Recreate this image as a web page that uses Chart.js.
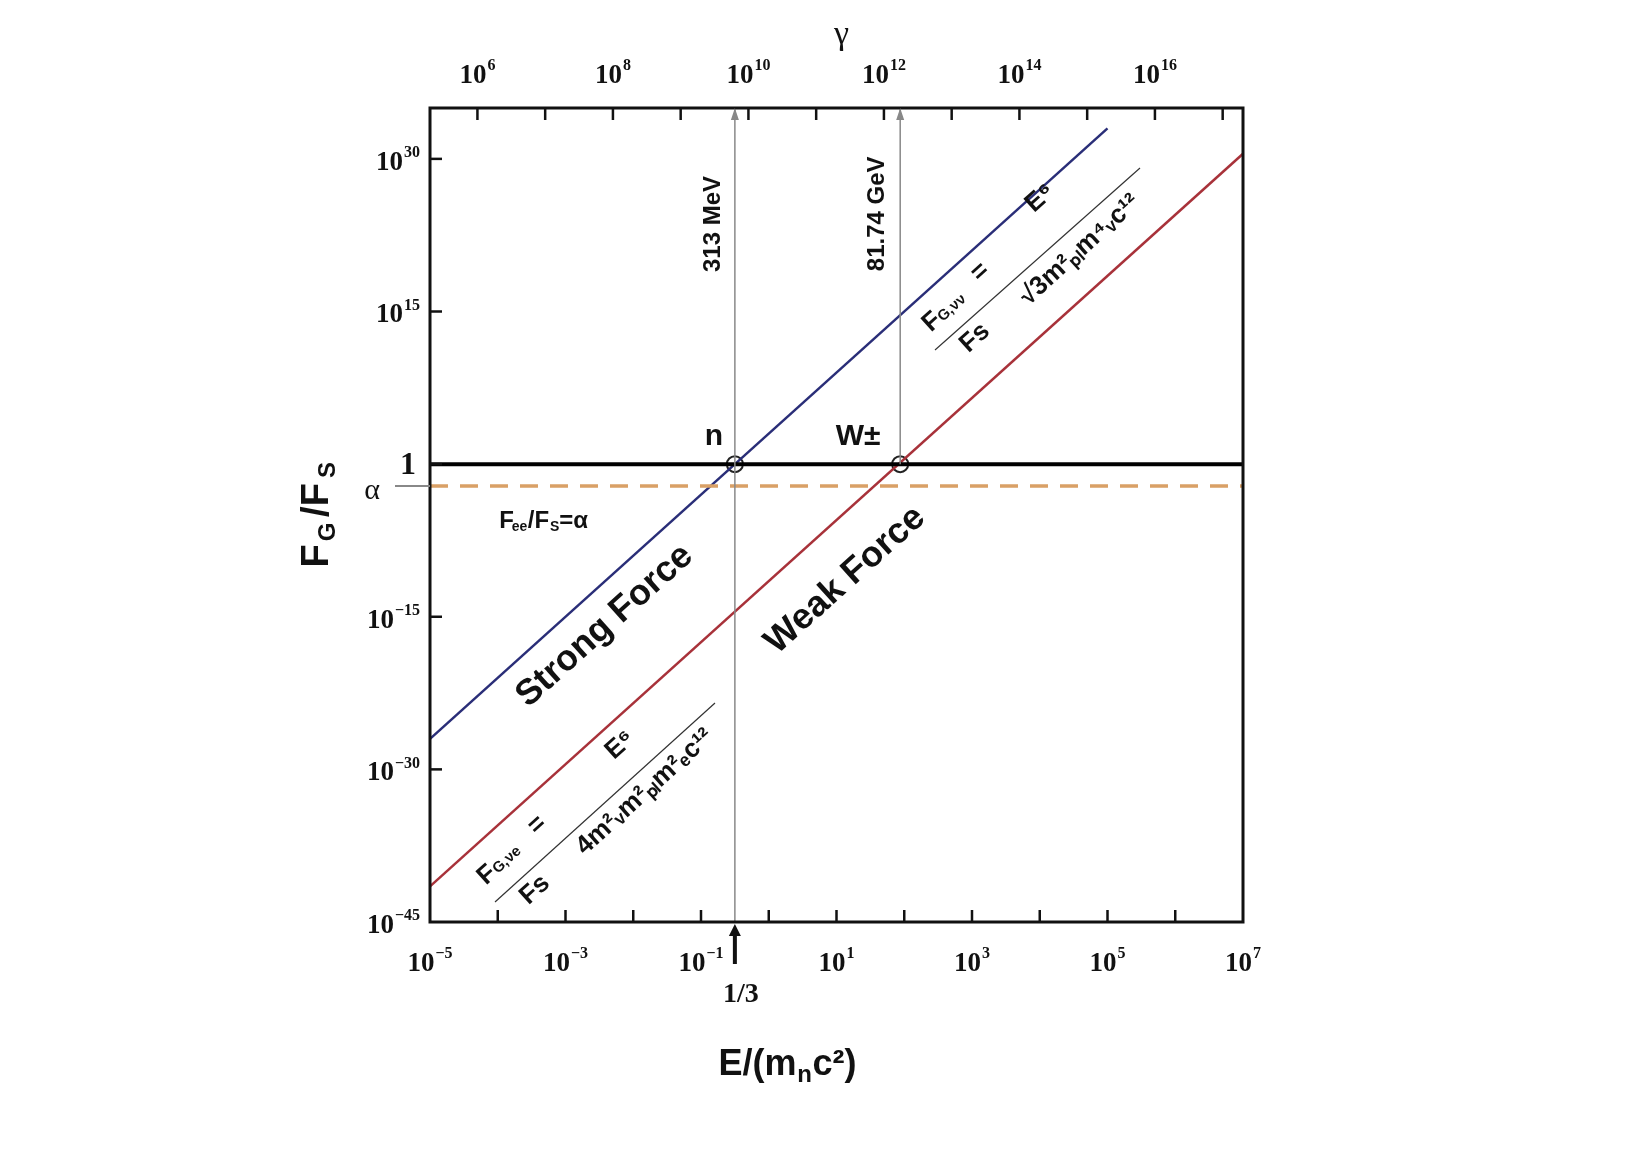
<!DOCTYPE html>
<html><head><meta charset="utf-8">
<script src="https://cdn.jsdelivr.net/npm/chart.js@4"></script>
<style>html,body{margin:0;background:#fff}#w{width:1640px;height:1170px}</style>
</head><body><div id="w"><canvas id="c"></canvas></div>
<script>
// log10 values
const strongLine = [{x:-5,y:-27.0},{x:5,y:33.0}];
const weakLine = [{x:-5,y:-41.5},{x:7,y:30.5}];
const unityLine = [{x:-5,y:0},{x:7,y:0}];
const alphaLine = [{x:-5,y:-2.14},{x:7,y:-2.14}];
const crossings = [{x:-0.5,y:0},{x:1.94,y:0}];
const vLine1 = [{x:-0.5,y:-45},{x:-0.5,y:35}];
const vLine2 = [{x:1.94,y:0},{x:1.94,y:35}];
const xTicks = [-5,-3,-1,1,3,5,7];
const yTicks = [-45,-30,-15,0,15,30];
const gammaTicks = [6,8,10,12,14,16];
const gammaOffset = 10.3;

function txt(ctx,s,x,y,font,rot,color,align){
  ctx.save();ctx.translate(x,y);ctx.rotate((rot||0)*Math.PI/180);
  ctx.font=font;ctx.fillStyle=color||'#111';ctx.textAlign=align||'center';ctx.textBaseline='middle';
  ctx.fillText(s,0,0);ctx.restore();
}
function powLabel(ctx,e,x,y,align){
  const bf='bold 27px "Liberation Serif", serif', ef='bold 16px "Liberation Serif", serif';
  const es=String(e).replace('-','−');
  ctx.save();ctx.textBaseline='middle';ctx.fillStyle='#111';
  ctx.font=bf;const bw=ctx.measureText('10').width;ctx.font=ef;const ew=ctx.measureText(es).width;
  const w=bw+ew+1;let x0=align==='right'?x-w:x-w/2;
  ctx.font=bf;ctx.textAlign='left';ctx.fillText('10',x0,y);
  ctx.font=ef;ctx.fillText(es,x0+bw+1,y-10);ctx.restore();
}
const deco = {
  id:'deco',
  afterDraw(ch){
    const ctx=ch.ctx, X=ch.scales.x, Y=ch.scales.y, a=ch.chartArea;
    const px=v=>X.getPixelForValue(v), py=v=>Y.getPixelForValue(v);
    ctx.save();
    ctx.strokeStyle='#111';ctx.lineWidth=3;ctx.strokeRect(a.left,a.top,a.right-a.left,a.bottom-a.top);
    ctx.lineWidth=2.5;
    for(let d=-4;d<=6;d++){ctx.beginPath();ctx.moveTo(px(d),a.bottom);ctx.lineTo(px(d),a.bottom-12);ctx.stroke();}
    for(const t of yTicks.slice(1)){ctx.beginPath();ctx.moveTo(a.left,py(t));ctx.lineTo(a.left+12,py(t));ctx.stroke();}
    for(let g=6;g<=17;g++){const xx=px(g-gammaOffset);ctx.beginPath();ctx.moveTo(xx,a.top);ctx.lineTo(xx,a.top+12);ctx.stroke();}
    // tick labels
    for(const t of xTicks) powLabel(ctx,t,px(t),a.bottom+42,'center');
    for(const t of gammaTicks) powLabel(ctx,t,px(t-gammaOffset),a.top-32,'center');
    for(const t of yTicks) if(t!==0) powLabel(ctx,t,a.left-10,py(t)+4,'right');
    ctx.fillStyle='#888';
    for(const v of [-0.5,1.94]){const xx=px(v);ctx.beginPath();ctx.moveTo(xx,a.top);ctx.lineTo(xx-4,a.top+12);ctx.lineTo(xx+4,a.top+12);ctx.closePath();ctx.fill();}
    ctx.strokeStyle='#888';ctx.lineWidth=2;ctx.beginPath();ctx.moveTo(a.left-35,py(-2.14));ctx.lineTo(a.left,py(-2.14));ctx.stroke();
    ctx.strokeStyle='#111';ctx.lineWidth=4;const ax=px(-0.5);
    ctx.beginPath();ctx.moveTo(ax,a.bottom+42);ctx.lineTo(ax,a.bottom+8);ctx.stroke();
    ctx.fillStyle='#111';ctx.beginPath();ctx.moveTo(ax,a.bottom+2);ctx.lineTo(ax-6,a.bottom+14);ctx.lineTo(ax+6,a.bottom+14);ctx.closePath();ctx.fill();
    const B='bold 30px "Liberation Sans", Arial, sans-serif';
    const S='bold 28px "Liberation Serif", serif';
    txt(ctx,'1/3',ax+6,a.bottom+73,S);
    txt(ctx,'1',a.left-22,py(0)+2,'bold 32px "Liberation Serif", serif');
    txt(ctx,'α',a.left-58,py(-2.14)+5,'30px "Liberation Serif", serif');
    txt(ctx,'E/(m',(a.left+a.right)/2-40,1065,'bold 36px "Liberation Sans", Arial, sans-serif',0,'#111','right');
    txt(ctx,'n',(a.left+a.right)/2-32,1075,'bold 24px "Liberation Sans", Arial, sans-serif');
    txt(ctx,'c²)',(a.left+a.right)/2-24,1065,'bold 36px "Liberation Sans", Arial, sans-serif',0,'#111','left');
    txt(ctx,'γ',(a.left+a.right)/2+5,35,'34px "Liberation Serif", serif');
    txt(ctx,'F',318,556,'bold 38px "Liberation Sans", Arial, sans-serif',-90);
    txt(ctx,'G',328,532,'bold 24px "Liberation Sans", Arial, sans-serif',-90);
    txt(ctx,'/F',318,500,'bold 38px "Liberation Sans", Arial, sans-serif',-90);
    txt(ctx,'S',328,470,'bold 24px "Liberation Sans", Arial, sans-serif',-90);
    txt(ctx,'n',px(-0.81),py(2.7),B);
    txt(ctx,'W±',px(1.32),py(2.7),B);
    txt(ctx,'313 MeV',px(-0.81),py(23.6),'bold 24px "Liberation Sans", Arial, sans-serif',-90);
    txt(ctx,'81.74 GeV',px(1.61),py(24.6),'bold 24px "Liberation Sans", Arial, sans-serif',-90);
    txt(ctx,'F',px(-3.87),py(-5.6),'bold 24px "Liberation Sans", Arial, sans-serif');
    txt(ctx,'ee',px(-3.68),py(-6.2),'bold 14px "Liberation Sans", Arial, sans-serif');
    txt(ctx,'/F',px(-3.40),py(-5.6),'bold 24px "Liberation Sans", Arial, sans-serif');
    txt(ctx,'S',px(-3.16),py(-6.2),'bold 14px "Liberation Sans", Arial, sans-serif');
    txt(ctx,'=α',px(-2.88),py(-5.6),'bold 24px "Liberation Sans", Arial, sans-serif');
    txt(ctx,'Strong Force',px(-2.42),py(-15.9),'bold 36px "Liberation Sans", Arial, sans-serif',-42);
    txt(ctx,'Weak Force',px(1.13),py(-11.4),'bold 36px "Liberation Sans", Arial, sans-serif',-42);
    const F='bold 26px "Liberation Sans", Arial, sans-serif';
    const Fs='bold 15px "Liberation Sans", Arial, sans-serif';
    ctx.strokeStyle='#333';ctx.lineWidth=1.2;
    ctx.beginPath();ctx.moveTo(935,350);ctx.lineTo(1140,168);ctx.stroke();
    ctx.beginPath();ctx.moveTo(495,902);ctx.lineTo(715,703);ctx.stroke();
    txt(ctx,'E⁶',1040,198,F,-42);
    txt(ctx,'F',932,322,F,-42);txt(ctx,'G,νν',952,308,Fs,-42);txt(ctx,'=',980,272,F,-42);
    txt(ctx,'Fs',975,338,F,-42);
    txt(ctx,'√3m²ₚₗm⁴ᵥc¹²',1080,250,F,-42);
    txt(ctx,'E⁶',620,745,F,-42);
    txt(ctx,'F',487,875,F,-42);txt(ctx,'G,νe',507,860,Fs,-42);txt(ctx,'=',537,825,F,-42);
    txt(ctx,'Fs',535,890,F,-42);
    txt(ctx,'4m²ᵥm²ₚₗm²ₑc¹²',645,792,F,-42);
    ctx.restore();
  }
};
new Chart(document.getElementById('c'),{
  type:'scatter',
  data:{datasets:[
    {data:vLine1,showLine:true,borderColor:'#888',borderWidth:1.5,pointRadius:0},
    {data:vLine2,showLine:true,borderColor:'#888',borderWidth:1.5,pointRadius:0},
    {data:alphaLine,showLine:true,borderColor:'#d9a066',borderWidth:3.5,borderDash:[18,12],pointRadius:0},
    {data:unityLine,showLine:true,borderColor:'#000',borderWidth:4,pointRadius:0},
    {data:strongLine,showLine:true,borderColor:'#2a2e78',borderWidth:2.5,pointRadius:0},
    {data:weakLine,showLine:true,borderColor:'#a8323a',borderWidth:2.5,pointRadius:0},
    {data:crossings,showLine:false,pointRadius:8,pointBorderWidth:2,pointBorderColor:'#222',pointBackgroundColor:'rgba(255,255,255,0)'}
  ]},
  options:{responsive:true,maintainAspectRatio:false,animation:false,
    layout:{padding:{left:330,right:397,top:48,bottom:148}},
    plugins:{legend:{display:false},tooltip:{enabled:false}},
    scales:{
      x:{type:'linear',min:-5,max:7,grid:{display:false},border:{display:false},
        afterBuildTicks:s=>{s.ticks=xTicks.map(v=>({value:v}));},afterFit:s=>{s.height=100;},
        ticks:{display:false}},
      x2:{type:'linear',position:'top',min:-5+gammaOffset,max:7+gammaOffset,grid:{display:false},border:{display:false},
        afterBuildTicks:s=>{s.ticks=gammaTicks.map(v=>({value:v}));},afterFit:s=>{s.height=60;},
        ticks:{display:false}},
      y:{type:'linear',min:-45,max:35,grid:{display:false},border:{display:false},
        afterBuildTicks:s=>{s.ticks=yTicks.map(v=>({value:v}));},afterFit:s=>{s.width=100;},
        ticks:{display:false}}
    }},
  plugins:[deco]
});
</script></body></html>
